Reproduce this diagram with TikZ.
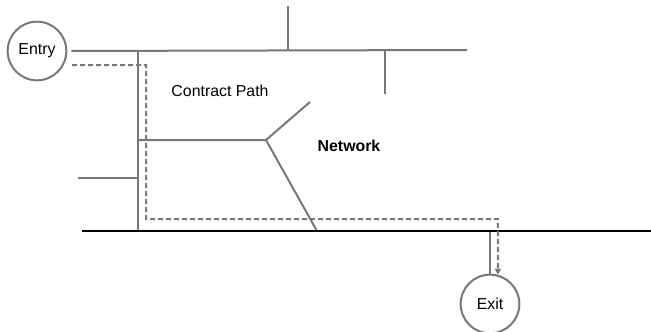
\documentclass[tikz,border=0pt]{standalone}
\usepackage{fontspec}
\setmainfont{Liberation Sans}
\usetikzlibrary{arrows.meta}
\definecolor{linegray}{HTML}{787878}
\begin{document}
\begin{tikzpicture}[x=0.75pt,y=-0.75pt,
    hub/.style={draw=linegray,circle,line width=1.5pt,minimum size=44pt,inner sep=0pt,font=\fontsize{11.9}{14}\selectfont},
    label/.style={font=\fontsize{11.9}{14}\selectfont},
    gridline/.style={draw=linegray,line width=1.5pt},
    ground/.style={draw=black,line width=1.6pt},
    contract/.style={draw=linegray,line width=1.5pt,dash pattern=on 3.75pt off 2.25pt,-{Triangle[width=4.5pt,length=4.5pt]}}]
  \useasboundingbox (0,0) rectangle (651,332);
  \node[hub] (entry) at (37,51) {Entry};
  \node[hub] (exit) at (490,304) {Exit};
  \node[label] (cpath) at (220,91) {Contract Path};
  \node[label,font=\fontsize{11.9}{14}\selectfont\bfseries] (net) at (349,146) {Network};

  \coordinate (topend) at (467,50);
  \coordinate (trunk) at (138,50);
  \coordinate (trunkfoot) at (138,231);
  \coordinate (mast) at (288,6);
  \coordinate (mastfoot) at (288,50);
  \coordinate (drop) at (385,94);
  \coordinate (dropfoot) at (385,50);
  \coordinate (stub) at (78,178);
  \coordinate (stubfoot) at (138,178);
  \coordinate (forkbase) at (138,140);
  \coordinate (fork) at (266,140);
  \coordinate (twig) at (310,102);
  \coordinate (forkfoot) at (317,231);
  \coordinate (groundw) at (82,231);
  \coordinate (grounde) at (651,231);
  \coordinate (exitfoot) at (490,231);
  \coordinate (tap) at (72,65);

  \draw[gridline,shorten <=3pt] (entry.east) -- (topend);
  \draw[gridline] (trunk) -- (trunkfoot);
  \draw[gridline] (mast) -- (mastfoot);
  \draw[gridline] (dropfoot) -- (drop);
  \draw[gridline] (stub) -- (stubfoot);
  \draw[gridline] (forkbase) -- (fork) -- (twig);
  \draw[gridline] (fork) -- (forkfoot);
  \draw[gridline] (exitfoot) -- (exit.north);
  \draw[ground] (groundw) -- (grounde);
  \draw[contract] (tap) -- (146,65) -- (146,219) -- (498,219) -- (exit.75);
\end{tikzpicture}
\end{document}
